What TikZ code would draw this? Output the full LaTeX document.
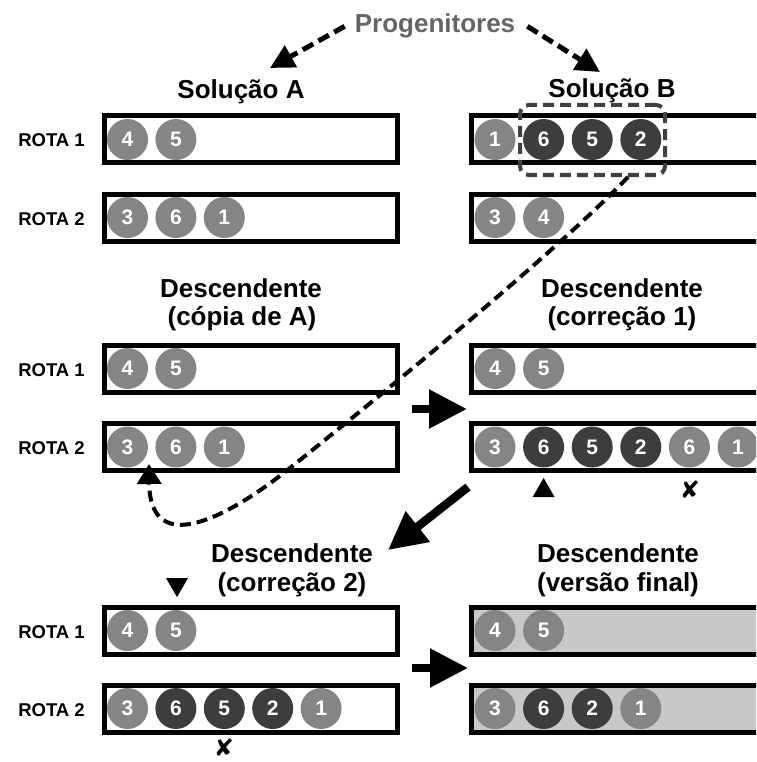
\documentclass[tikz,border=0pt]{standalone}
\usepackage{fontspec}
\setmainfont{Liberation Sans}
\newfontfamily\symfont{DejaVu Sans}
\usetikzlibrary{arrows.meta,shapes.geometric}

\definecolor{chipgray}{HTML}{858585}
\definecolor{chipdark}{HTML}{3D3D3D}
\definecolor{finalfill}{HTML}{C8C8C8}
\definecolor{selgray}{HTML}{404040}
\definecolor{titlegray}{HTML}{656565}

\tikzset{
  title/.style={font=\fontsize{26}{29}\selectfont\bfseries, anchor=base, inner sep=0pt},
  rotalabel/.style={font=\fontsize{18.5}{22}\selectfont\bfseries, anchor=base, inner sep=0pt},
  routebox/.style={draw, line width=5pt, minimum width=293pt, minimum height=47pt, inner sep=0pt},
  longbox/.style={routebox, minimum width=326pt},
  finalbox/.style={longbox, fill=finalfill},
  chip/.style={circle, minimum size=41pt, inner sep=0pt, text=white,
    font=\fontsize{21}{21}\selectfont\bfseries},
  lt/.style={chip, fill=chipgray},
  dk/.style={chip, fill=chipdark},
  bigarrow/.style={line width=8.5pt, -{Triangle[length=38pt,width=37pt]}},
  parentarrow/.style={line width=5pt, dash pattern=on 12pt off 6pt,
    -{Triangle[length=24pt,width=24pt]}},
  movearrow/.style={line width=4pt, dash pattern=on 11pt off 6pt,
    -{Triangle[length=20pt,width=24pt]}},
  selection/.style={draw=selgray, line width=4pt, dash pattern=on 11pt off 6pt,
    rounded corners=9pt, minimum width=145pt, minimum height=70pt, inner sep=0pt},
  markup/.style={regular polygon, regular polygon sides=3, fill=black,
    minimum size=25.4pt, inner sep=0pt},
  markdown/.style={markup, shape border rotate=180},
  xmark/.style={font=\symfont\fontsize{24}{24}\selectfont, inner sep=0pt},
}

\begin{document}
\begin{tikzpicture}[x=1pt,y=-1pt]
\useasboundingbox (0,0) rectangle (756,762);
\clip (0,0) rectangle (756,762);
\fill[white] (0,0) rectangle (756,762);

% ---------- parents ----------
\node[title, text=titlegray] (prog) at (435,33) {Progenitores};
\node[title] (solA) at (241,99) {Solução A};
\node[title] (solB) at (612,98) {Solução B};

\node[rotalabel] (la1) at (51.5,147) {ROTA 1};
\node[rotalabel] (la2) at (51.5,225) {ROTA 2};

\node[routebox] (a1) at (251,139.5) {};
\node[routebox] (a2) at (251,217.5) {};
\node[longbox] (b1) at (634.5,139.5) {};
\node[longbox] (b2) at (634.5,217.5) {};

\foreach \n [count=\i from 0] in {4,5}
  \node[lt] (a1c\i) at (127.5+48.4*\i,139.5) {\n};
\foreach \n [count=\i from 0] in {3,6,1}
  \node[lt] (a2c\i) at (127.5+48.4*\i,217.5) {\n};
\foreach \n/\s [count=\i from 0] in {1/lt,6/dk,5/dk,2/dk}
  \node[\s] (b1c\i) at (495+48.6*\i,139.5) {\n};
\foreach \n [count=\i from 0] in {3,4}
  \node[lt] (b2c\i) at (495+48.6*\i,217.5) {\n};

\node[selection] (sel) at (592.5,140) {};

\coordinate (tipA) at (270,68);
\coordinate (tipB) at (600,72);
\draw[parentarrow] ([xshift=-10pt]prog.west) -- (tipA);
\draw[parentarrow] ([xshift=12pt]prog.east) -- (tipB);

% ---------- offspring: copy of A and first correction ----------
\node[title] (dc1) at (241,297) {Descendente};
\node[title] (dc2) at (242,325) {(cópia de A)};
\node[title] (dd1) at (622,297) {Descendente};
\node[title] (dd2) at (622,325) {(correção 1)};

\node[rotalabel] (lc1) at (51.5,376) {ROTA 1};
\node[rotalabel] (lc2) at (51.5,454.5) {ROTA 2};

\node[routebox] (c1) at (251,368.5) {};
\node[routebox] (c2) at (251,447) {};
\node[longbox] (d1) at (634.5,368.5) {};
\node[longbox] (d2) at (634.5,447) {};

\foreach \n [count=\i from 0] in {4,5}
  \node[lt] (c1c\i) at (127.5+48.4*\i,368.5) {\n};
\foreach \n [count=\i from 0] in {3,6,1}
  \node[lt] (c2c\i) at (127.5+48.4*\i,447) {\n};
\foreach \n [count=\i from 0] in {4,5}
  \node[lt] (d1c\i) at (495+48.6*\i,368.5) {\n};
\foreach \n/\s [count=\i from 0] in {3/lt,6/dk,5/dk,2/dk,6/lt,1/lt}
  \node[\s] (d2c\i) at (495+48.6*\i,447) {\n};

\node[markup] (ins) at (543.6,490.7) {};
\node[xmark] (del1) at (690,490) {✘};

\coordinate (m1s) at (412,409);
\coordinate (m1e) at (467,409);
\draw[bigarrow] (m1s) -- (m1e);

\coordinate (m2s) at (468,487);
\coordinate (m2e) at (388,550);
\draw[bigarrow] (m2s) -- (m2e);

% ---------- second correction and final version ----------
\node[title] (de1) at (292,562) {Descendente};
\node[title] (de2) at (292,591) {(correção 2)};
\node[title] (df1) at (618,562) {Descendente};
\node[title] (df2) at (618,591) {(versão final)};

\node[rotalabel] (le1) at (51.5,638) {ROTA 1};
\node[rotalabel] (le2) at (51.5,716) {ROTA 2};

\node[routebox] (e1) at (251,630.5) {};
\node[routebox] (e2) at (251,708.5) {};
\node[finalbox] (f1) at (634.5,630.5) {};
\node[finalbox] (f2) at (634.5,708.5) {};

\foreach \n [count=\i from 0] in {4,5}
  \node[lt] (e1c\i) at (127.5+48.4*\i,630.5) {\n};
\foreach \n/\s [count=\i from 0] in {3/lt,6/dk,5/dk,2/dk,1/lt}
  \node[\s] (e2c\i) at (127.5+48.4*\i,708.5) {\n};
\foreach \n [count=\i from 0] in {4,5}
  \node[lt] (f1c\i) at (495+48.6*\i,630.5) {\n};
\foreach \n/\s [count=\i from 0] in {3/lt,6/dk,2/dk,1/lt}
  \node[\s] (f2c\i) at (495+48.6*\i,708.5) {\n};

\node[markdown] (dup) at (177,584.4) {};
\node[xmark] (del2) at (224,748) {✘};

\coordinate (m3s) at (412,668);
\coordinate (m3e) at (468,668);
\draw[bigarrow] (m3s) -- (m3e);

% ---------- inserted segment travels from B into route 2 ----------
\coordinate (cs) at (628,177);
\coordinate (ce) at (149,464);
\draw[movearrow] (cs) .. controls (560,248) and (400,380) .. (290,468)
  .. controls (230,516) and (150,560) .. (ce);
\end{tikzpicture}
\end{document}
